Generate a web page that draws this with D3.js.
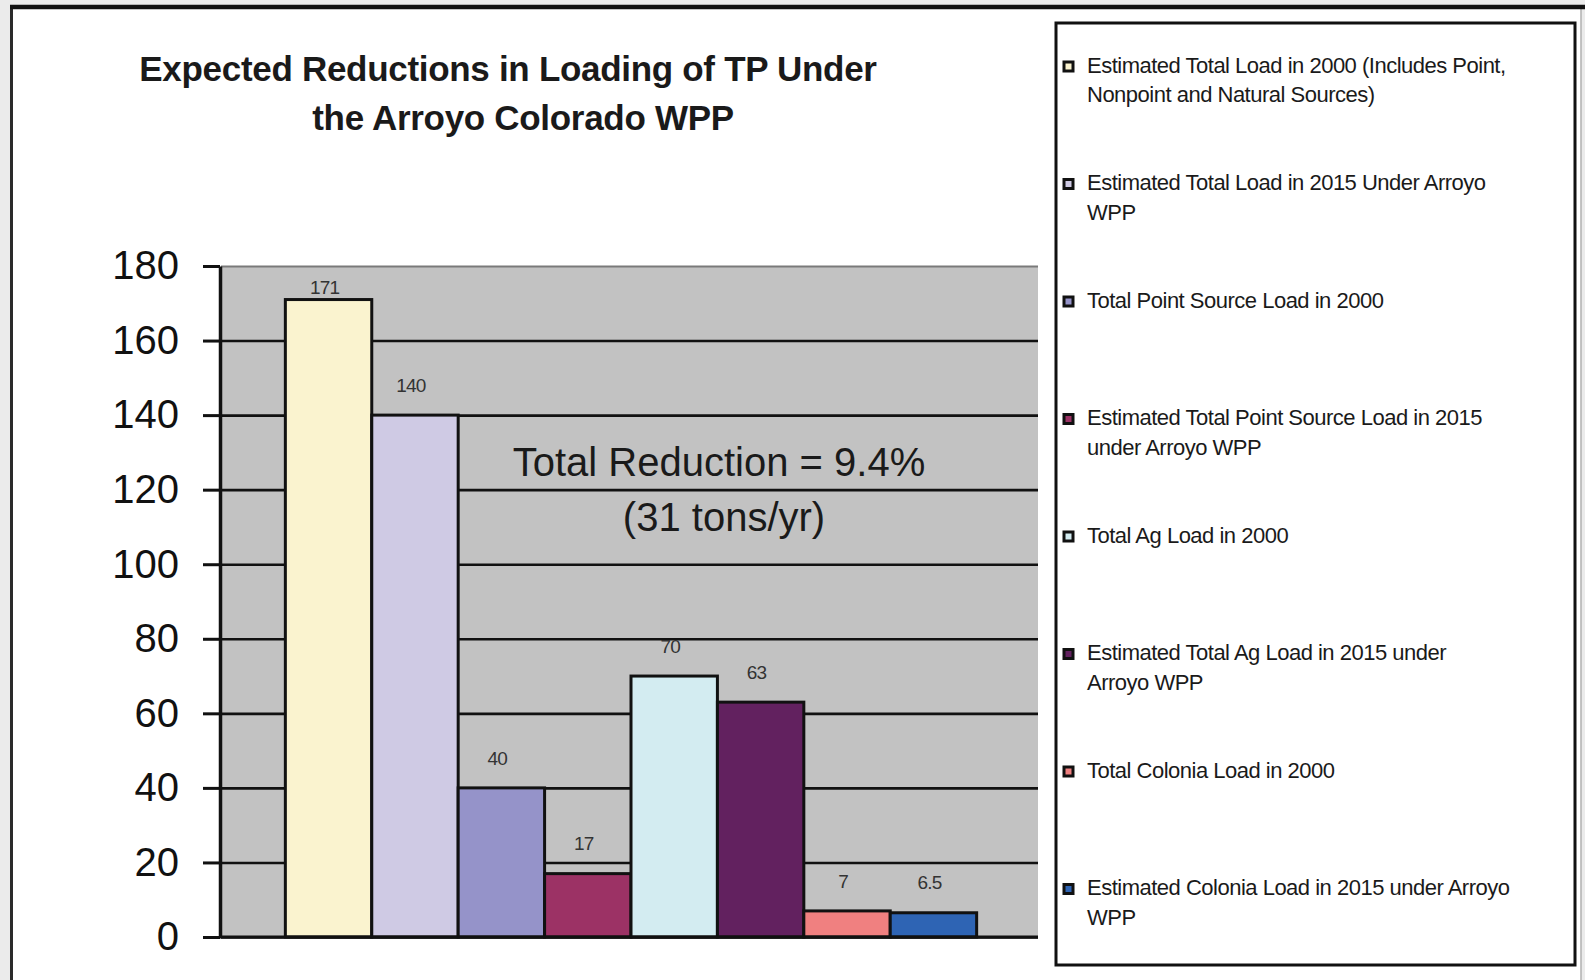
<!DOCTYPE html>
<html>
<head>
<meta charset="utf-8">
<script src="https://cdn.jsdelivr.net/npm/d3@7"></script>
<style>
  body { margin: 0; background: #ebebeb; }
  text { font-family: "Liberation Sans", Arial, sans-serif; }
</style>
</head>
<body>
<div id="chart"></div>
<script>
const series = [
  "Estimated Total Load in 2000 (Includes Point,|Nonpoint and Natural Sources)",
  "Estimated Total Load in 2015 Under Arroyo|WPP",
  "Total Point Source Load in 2000",
  "Estimated Total Point Source Load in 2015|under Arroyo WPP",
  "Total Ag Load in 2000",
  "Estimated Total Ag Load in 2015 under|Arroyo WPP",
  "Total Colonia Load in 2000",
  "Estimated Colonia Load in 2015 under Arroyo|WPP"
];
const values = [171, 140, 40, 17, 70, 63, 7, 6.5];
const valueLabels = ["171", "140", "40", "17", "70", "63", "7", "6.5"];
const colors = ["#faf3cf", "#cfcae4", "#9593c9", "#9c3265", "#d3ecf1", "#62215f", "#f08080", "#2e64b4"];
const yTicks = [0, 20, 40, 60, 80, 100, 120, 140, 160, 180];
const titleLines = ["Expected Reductions in Loading of TP Under", "the Arroyo Colorado WPP"];
const noteLines = ["Total Reduction = 9.4%", "(31 tons/yr)"];

const W = 1585, H = 980;
const plot = { left: 221, right: 1038, top: 266, bottom: 937 };

const svg = d3.select("#chart").append("svg")
  .attr("width", W)
  .attr("height", H);

// page frame
svg.append("rect").attr("width", W).attr("height", H).attr("fill", "#ebebeb");
svg.append("rect")
  .attr("x", 11).attr("y", 7)
  .attr("width", 1570).attr("height", H)
  .attr("fill", "#fff");
svg.append("line")
  .attr("x1", 1581).attr("x2", 1581).attr("y1", 7).attr("y2", H)
  .attr("stroke", "#b0b0b0").attr("stroke-width", 1.5);
svg.append("line")
  .attr("x1", 11.5).attr("x2", 11.5).attr("y1", 7).attr("y2", H)
  .attr("stroke", "#2a2a2a").attr("stroke-width", 3);
svg.append("line")
  .attr("x1", 10).attr("x2", W).attr("y1", 7).attr("y2", 7)
  .attr("stroke", "#111").attr("stroke-width", 4.5);

// title
svg.append("g")
  .selectAll("text")
  .data(titleLines)
  .join("text")
  .attr("x", (d, i) => i === 0 ? 508 : 523)
  .attr("y", (d, i) => 81 + i * 48.5)
  .attr("text-anchor", "middle")
  .attr("font-size", 35)
  .attr("font-weight", "bold")
  .attr("letter-spacing", -0.3)
  .attr("fill", "#1a1a1a")
  .text(d => d);

let x = d3.scaleBand()
  .domain(series)
  .range([224, plot.right])
  .paddingInner(0)
  .paddingOuter(0.71);

let y = d3.scaleLinear()
  .domain([0, 180])
  .range([plot.bottom, plot.top]);

svg.append("rect")
  .attr("x", plot.left)
  .attr("y", plot.top)
  .attr("width", plot.right - plot.left)
  .attr("height", plot.bottom - plot.top)
  .attr("fill", "#c2c2c2");

// gridlines
svg.append("g")
  .attr("transform", `translate(${plot.left},0)`)
  .call(d3.axisRight(y)
    .tickValues(yTicks)
    .tickSize(plot.right - plot.left)
    .tickFormat(""))
  .call(g => g.select(".domain").remove())
  .call(g => g.selectAll(".tick line")
    .attr("stroke", d => d === 180 ? "#7a7a7a" : "#111")
    .attr("stroke-width", d => d === 180 ? 2 : 2.6));

// bars
svg.append("g")
  .selectAll("rect")
  .data(values)
  .join("rect")
  .attr("x", (d, i) => x(series[i]))
  .attr("y", d => y(d))
  .attr("width", x.bandwidth())
  .attr("height", d => y(0) - y(d))
  .attr("fill", (d, i) => colors[i])
  .attr("stroke", "#111")
  .attr("stroke-width", 3);

// value labels
svg.append("g")
  .selectAll("text")
  .data(values)
  .join("text")
  .attr("x", (d, i) => x(series[i]) + x.bandwidth() / 2 - 4)
  .attr("y", d => Math.max(y(d) - 30, y(180) + 21))
  .attr("dy", "0.35em")
  .attr("text-anchor", "middle")
  .attr("font-size", 19)
  .attr("letter-spacing", -0.8)
  .attr("fill", "#333")
  .text((d, i) => valueLabels[i]);

// y axis
svg.append("g")
  .attr("transform", `translate(${plot.left - 1},0)`)
  .call(d3.axisLeft(y)
    .tickValues(yTicks)
    .tickSize(17)
    .tickSizeOuter(0)
    .tickPadding(24))
  .call(g => g.select(".domain").attr("stroke", "#111").attr("stroke-width", 3.5))
  .call(g => g.selectAll(".tick line").attr("stroke", "#111").attr("stroke-width", 3))
  .call(g => g.selectAll(".tick text")
    .attr("font-size", 40)
    .attr("font-family", "'Liberation Sans', Arial, sans-serif")
    .attr("fill", "#111"));

// x axis baseline
svg.append("g")
  .attr("transform", `translate(0,${plot.bottom})`)
  .call(d3.axisBottom(x).tickSize(0).tickFormat(""))
  .call(g => g.select(".domain")
    .attr("d", `M${plot.left - 1},0H${plot.right}`)
    .attr("stroke", "#111")
    .attr("stroke-width", 3));

// reduction note
svg.append("g")
  .selectAll("text")
  .data(noteLines)
  .join("text")
  .attr("x", (d, i) => i === 0 ? 719 : 724)
  .attr("y", (d, i) => 462 + i * 55)
  .attr("dy", "0.35em")
  .attr("text-anchor", "middle")
  .attr("font-size", 40)
  .attr("fill", "#1a1a1a")
  .text(d => d);

// legend
const legend = svg.append("g");
legend.append("rect")
  .attr("x", 1056).attr("y", 23)
  .attr("width", 519).attr("height", 942)
  .attr("fill", "#fff")
  .attr("stroke", "#111")
  .attr("stroke-width", 3);

const item = legend.selectAll("g")
  .data(series)
  .join("g")
  .attr("transform", (d, i) => `translate(1064,${65 + i * 117.5})`);

item.append("rect")
  .attr("x", 0).attr("y", -3)
  .attr("width", 9).attr("height", 9)
  .attr("fill", (d, i) => colors[i])
  .attr("stroke", "#111")
  .attr("stroke-width", 3);

item.append("text")
  .attr("font-size", 22)
  .attr("letter-spacing", -0.5)
  .attr("fill", "#1a1a1a")
  .selectAll("tspan")
  .data(d => d.split("|"))
  .join("tspan")
  .attr("x", 23)
  .attr("y", (d, i) => i * 29.5)
  .attr("dy", "0.35em")
  .text(d => d);
</script>
</body>
</html>
